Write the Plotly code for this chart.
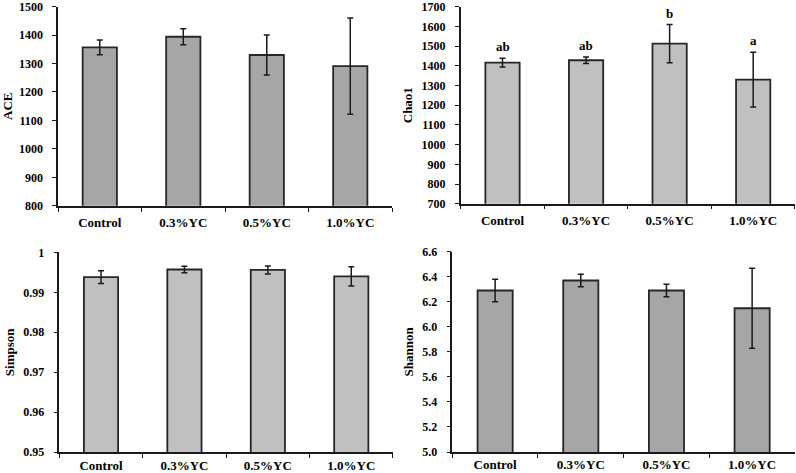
import plotly.graph_objects as go

# groups
groups = ["Control", "0.3%YC", "0.5%YC", "1.0%YC"]

# alpha diversity indices (mean and error)
ace = [1357, 1394, 1330, 1291]
ace_err = [26, 28, 70, 169]

chao1 = [1416, 1428, 1512, 1330]
chao1_err = [22, 17, 97, 139]
chao1_letters = ["ab", "ab", "b", "a"]

simpson = [0.9938, 0.9957, 0.9956, 0.9940]
simpson_err = [0.0016, 0.0008, 0.0010, 0.0024]

shannon = [6.29, 6.37, 6.29, 6.148]
shannon_err = [0.09, 0.05, 0.05, 0.32]

FONT = "Liberation Serif"
dark = "#a6a6a6"
light = "#c0c0c0"

fig = go.Figure()

panels = [
    # values, errors, color, title, range, dtick, tickformat, xaxis, yaxis, xdom, ydom, x label gap
    (ace, ace_err, dark, "ACE", [800, 1500], 100, "d", "x", "y",
     [0.0729, 0.4925], [0.565, 0.986], 4),
    (chao1, chao1_err, light, "Chao1", [700, 1700], 100, "d", "x2", "y2",
     [0.5788, 0.9987], [0.5693, 0.986], 4),
    (simpson, simpson_err, light, "Simpson", [0.95, 1.0], 0.01, "", "x3", "y3",
     [0.0745, 0.4937], [0.0438, 0.4666], 0),
    (shannon, shannon_err, dark, "Shannon", [5.0, 6.6], 0.2, ".1f", "x4", "y4",
     [0.5682, 0.9987], [0.0444, 0.4679], 0),
]

for vals, errs, col, title, rng, dt, fmt, xa, ya, xd, yd, gap in panels:
    fig.add_trace(go.Bar(
        x=groups, y=vals, xaxis=xa, yaxis=ya,
        marker=dict(color=col, line=dict(color="#262626", width=1.8)),
        error_y=dict(type="data", array=errs, visible=True,
                     color="#1a1a1a", thickness=1.5, width=3),
        width=0.41, showlegend=False,
    ))
    xkey = "xaxis" + xa[1:]
    ykey = "yaxis" + ya[1:]
    fig.layout[xkey] = dict(
        domain=xd, anchor=ya, type="category",
        showline=True, linecolor="#1a1a1a", linewidth=1.5,
        ticks="outside", tickson="boundaries", ticklen=4, tickcolor="#1a1a1a",
        tickfont=dict(family=FONT, size=13, color="black"),
        ticklabelstandoff=gap,
        showgrid=False, zeroline=False, fixedrange=True,
    )
    fig.layout[ykey] = dict(
        domain=yd, anchor=xa, range=rng, dtick=dt, tickformat=fmt,
        showline=True, linecolor="#1a1a1a", linewidth=1.5,
        ticks="outside", ticklen=4, tickcolor="#1a1a1a",
        tickfont=dict(family=FONT, size=12, color="black"),
        ticklabeloverflow="allow", ticklabelstandoff=7,
        title=dict(text="<b>" + title + "</b>", standoff=6,
                   font=dict(family=FONT, size=13, color="black")),
        showgrid=False, zeroline=False, fixedrange=True,
    )

# significance letters on Chao1
for g, v, e, lab in zip(groups, chao1, chao1_err, chao1_letters):
    fig.add_annotation(
        x=g, y=v + e, xref="x2", yref="y2", text="<b>" + lab + "</b>",
        showarrow=False, yanchor="bottom", yshift=2,
        font=dict(family=FONT, size=13, color="black"),
    )

fig.update_layout(
    width=796, height=473,
    margin=dict(l=0, r=0, t=0, b=0, autoexpand=False),
    paper_bgcolor="white", plot_bgcolor="white",
    font=dict(family=FONT, color="black"),
    bargap=0.59,
)
fig.layout.font.weight = "bold"

fig.write_html("out.html",
               config={"displayModeBar": False},
               post_script="document.body.style.margin='0';"
                           "document.body.style.overflow='hidden';")
